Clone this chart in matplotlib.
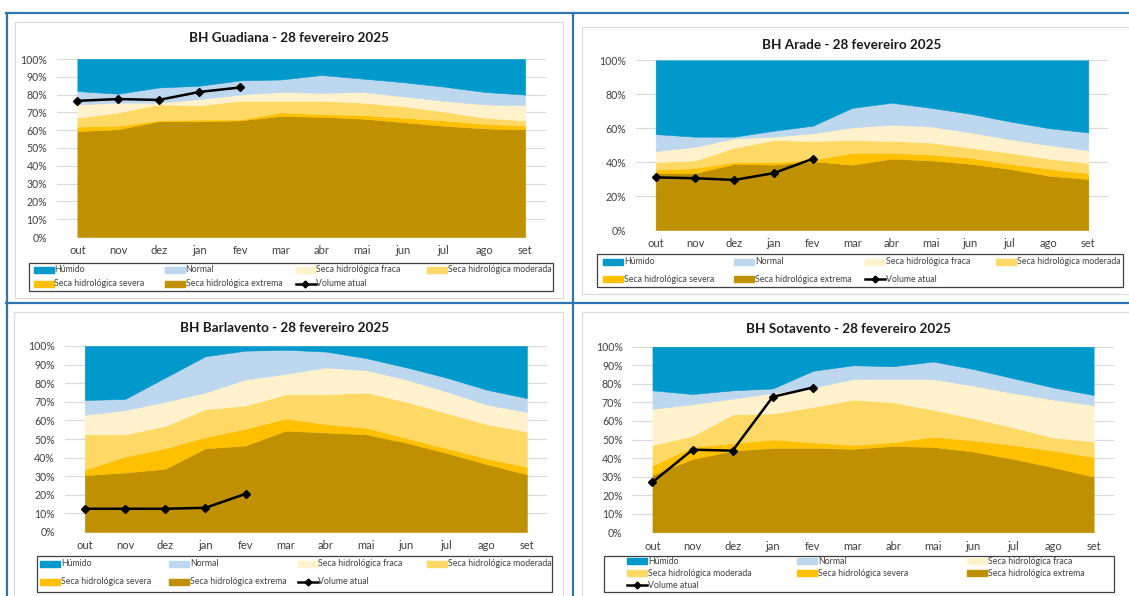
import numpy as np
import matplotlib
matplotlib.use("Agg")
import matplotlib.pyplot as plt
from matplotlib.patches import Rectangle
from matplotlib.lines import Line2D

plt.rcParams['font.family'] = ['Lato', 'DejaVu Sans']

# --- dados: limite superior acumulado de cada classe (%) ---
meses = ['out', 'nov', 'dez', 'jan', 'fev', 'mar', 'abr', 'mai', 'jun', 'jul', 'ago', 'set']

guad_extrema = [59.5, 60.5, 65, 65, 65.5, 68, 67.5, 66.5, 64.5, 62.5, 61, 60.5]
guad_severa = [62, 62.5, 65.5, 66, 66, 70, 69, 68.5, 67, 65.5, 63.5, 62.5]
guad_moderada = [67, 70, 74.5, 74, 76.5, 76.5, 76.5, 75.5, 73.5, 70.5, 67, 65.5]
guad_fraca = [74.5, 75.5, 75.5, 77.5, 80, 81.5, 81, 81.5, 79, 76.5, 74.5, 74]
guad_normal = [82, 80.5, 84, 85, 88, 88.5, 91, 89, 87, 84.5, 81.5, 80]
guad_volume = [76.5, 77.5, 77, 81.5, 84]

arade_extrema = [33.5, 33.5, 39, 38.5, 40.5, 38.5, 42, 41, 39, 36, 32, 30]
arade_severa = [35.5, 36.5, 40, 40, 41.5, 45.5, 45.5, 44.5, 42.5, 39, 36, 33.5]
arade_moderada = [40, 41, 48.5, 53, 52.5, 53, 52.5, 51.5, 48.5, 45.5, 42, 39.5]
arade_fraca = [46.5, 49, 54, 55, 57, 60.5, 62, 61, 57.5, 53.5, 50, 47]
arade_normal = [56.5, 55, 55, 58.5, 61.5, 72, 75, 72, 68.5, 64, 60, 57.5]
arade_volume = [31, 30.5, 29.5, 33.5, 42]

barl_extrema = [30.5, 32, 34, 45, 46.5, 54.5, 53.5, 52.5, 48, 42.5, 36.5, 31]
barl_severa = [33.5, 40.5, 45, 51, 55.5, 61, 58, 56, 50.5, 45, 39.5, 35]
barl_moderada = [52.5, 52.5, 57, 66, 68, 74, 74, 75, 70, 64, 58, 54]
barl_fraca = [63, 65.5, 70, 75, 82, 85, 88.5, 87, 82, 75.5, 68.5, 64.5]
barl_normal = [71, 71.5, 83, 94.5, 97.5, 98, 97, 93.5, 88.5, 83, 76.5, 72]
barl_volume = [12.5, 12.5, 12.5, 13, 20.5]

sota_extrema = [31, 39.5, 44, 45.5, 45.5, 45, 46.5, 46, 43.5, 39.5, 35, 30]
sota_severa = [36, 46, 48, 50, 48.5, 47, 48.5, 51.5, 49.5, 47, 44, 40.5]
sota_moderada = [47, 52, 63.5, 64, 67.5, 71.5, 70, 66, 61.5, 56.5, 51, 49]
sota_fraca = [66.5, 69, 72, 75, 78, 82.5, 82.5, 82.5, 79, 75, 71.5, 68.5]
sota_normal = [76.5, 74.5, 76.5, 77.5, 87, 90, 89.5, 92, 88, 83, 78, 74]
sota_volume = [27, 44.5, 44, 73, 78]

classes = ['Seca hidrológica extrema', 'Seca hidrológica severa', 'Seca hidrológica moderada',
           'Seca hidrológica fraca', 'Normal', 'Húmido']
cores = ['#BF9000', '#FFC000', '#FFD966', '#FFF2CC', '#BDD7EE', '#0099CC']

W, H = 1129, 596
fig = plt.figure(figsize=(W / 100, H / 100), dpi=100)


def fx(x):
    return x / W


def fy(y):
    return 1 - y / H


def eixo(x0, y0, x1, y1):
    return fig.add_axes([fx(x0), fy(y1), (x1 - x0) / W, (y1 - y0) / H])


def caixa(x0, y0, x1, y1, cor, lw):
    fig.patches.append(Rectangle((fx(x0), fy(y1)), (x1 - x0) / W, (y1 - y0) / H,
                                 transform=fig.transFigure, fill=False,
                                 edgecolor=cor, lw=lw))


def grafico(ax, titulo, tx, ty, limites, volume, passo):
    x = np.arange(len(meses))
    baixo = np.zeros(len(meses))
    for topo, cor in zip(limites + [[100] * len(meses)], cores):
        topo = np.array(topo, dtype=float)
        ax.fill_between(x, baixo, topo, facecolor=cor, edgecolor=cor, lw=0.4)
        baixo = topo
    ax.plot(np.arange(len(volume)), volume, color='black', lw=1.8,
            marker='D', ms=4.5, zorder=5)
    ax.set_xlim(-0.5, 11.5)
    ax.set_ylim(0, 100)
    ax.set_xticks(x)
    ax.set_xticklabels(meses)
    ax.set_yticks(np.arange(0, 101, passo))
    ax.yaxis.set_major_formatter(lambda v, p: f'{v:.0f}%')
    ax.grid(axis='y', color='#D9D9D9', lw=0.8)
    ax.set_axisbelow(True)
    for s in ax.spines.values():
        s.set_visible(False)
    ax.tick_params(length=0, labelcolor='#404040')
    ax.tick_params(axis='y', pad=7, labelsize=7.6)
    ax.tick_params(axis='x', pad=6, labelsize=8)
    fig.text(fx(tx), fy(ty), titulo, ha='center', va='center',
             fontsize=9.7, fontweight='bold', color='#1a1a1a')


def legenda(box, colunas, linhas):
    caixa(*box, '#404040', 0.9)
    itens = [(c, cor) for c, cor in zip(classes[::-1], cores[::-1])] + [('Volume atual', None)]
    pos = [(cx, ly) for ly in linhas for cx in colunas]
    for (nome, cor), (cx, ly) in zip(itens, pos):
        if cor is not None:
            fig.patches.append(Rectangle((fx(cx), fy(ly + 3)), 20 / W, 6 / H,
                                         transform=fig.transFigure, color=cor))
        else:
            fig.lines.append(Line2D([fx(cx), fx(cx + 20)], [fy(ly), fy(ly)],
                                    transform=fig.transFigure, color='black', lw=1.8))
            fig.lines.append(Line2D([fx(cx + 10)], [fy(ly)], transform=fig.transFigure,
                                    color='black', marker='D', ms=3.5))
        fig.text(fx(cx + 21), fy(ly), nome, ha='left', va='center',
                 fontsize=6.3, color='#404040')


# molduras dos gráficos
caixa(15, 22, 563, 298, '#D9D9D9', 0.8)
caixa(582, 27, 1135, 294, '#D9D9D9', 0.8)
caixa(14, 312, 563, 605, '#D9D9D9', 0.8)
caixa(582, 312, 1135, 605, '#D9D9D9', 0.8)

# linhas da tabela
azul = '#2E75B6'
for xs, ys in [([6, 1129], [13, 13]), ([6, 1129], [302.5, 302.5]),
               ([6.5, 6.5], [13, 596]), ([572.5, 572.5], [13, 596])]:
    fig.lines.append(Line2D([fx(v) for v in xs], [fy(v) for v in ys],
                            transform=fig.transFigure, color=azul, lw=1.6))

ax1 = eixo(57, 59, 545.5, 237)
grafico(ax1, 'BH Guadiana - 28 fevereiro 2025', 289, 38,
        [guad_extrema, guad_severa, guad_moderada, guad_fraca, guad_normal], guad_volume, 10)
legenda((28.5, 263, 553, 291), [33.5, 164.5, 295.5, 426.5], [269.5, 284])

ax2 = eixo(636, 60.3, 1108, 230)
grafico(ax2, 'BH Arade - 28 fevereiro 2025', 851.5, 45,
        [arade_extrema, arade_severa, arade_moderada, arade_fraca, arade_normal], arade_volume, 20)
legenda((597, 254, 1122.5, 287), [603, 734, 864.5, 996], [262, 279])

ax3 = eixo(64.7, 346, 547, 532)
grafico(ax3, 'BH Barlavento - 28 fevereiro 2025', 284.5, 328,
        [barl_extrema, barl_severa, barl_moderada, barl_fraca, barl_normal], barl_volume, 10)
legenda((36.5, 556, 551.5, 592), [40, 169, 297.5, 426.5], [564, 582])

ax4 = eixo(632.4, 346.7, 1113.7, 532.3)
grafico(ax4, 'BH Sotavento - 28 fevereiro 2025', 849, 329,
        [sota_extrema, sota_severa, sota_moderada, sota_fraca, sota_normal], sota_volume, 10)
legenda((604, 556, 1113.7, 592), [627, 797, 967], [561, 573, 585])

fig.savefig('out.png', dpi=100)
